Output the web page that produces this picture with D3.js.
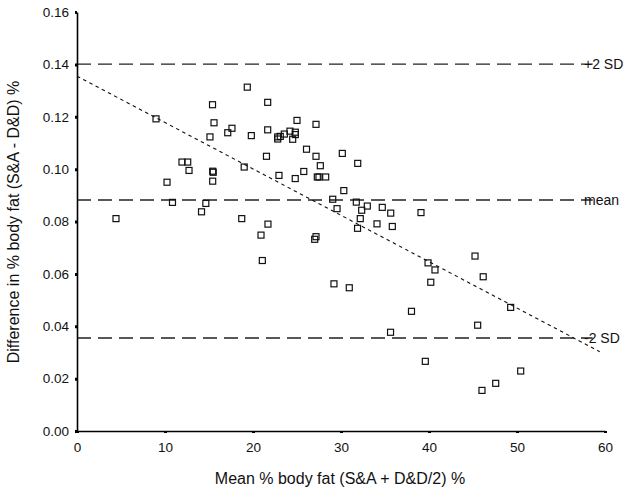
<!DOCTYPE html>
<html>
<head>
<meta charset="utf-8">
<script src="https://cdn.jsdelivr.net/npm/d3@7"></script>
<style>
  body { margin: 0; background: #fff; }
  text { font-family: "Liberation Sans", Arial, Helvetica, sans-serif; }
</style>
</head>
<body>
<svg id="chart" width="628" height="490"></svg>
<script>
// Data (mean % body fat, difference)
const meanFat = [4.43, 8.98, 10.23, 10.85, 11.93, 12.58, 12.73, 14.15, 14.64, 15.40,
  15.57, 15.11, 15.42, 15.48, 15.42, 17.13, 17.61, 18.72, 19.00, 19.35,
  19.81, 20.91, 21.06, 21.53, 21.67, 21.67, 21.70, 22.81, 23.10, 22.81,
  23.56, 24.20, 24.81, 24.81, 24.51, 22.95, 24.80, 25.00, 25.77, 26.08,
  27.01, 27.16, 27.16, 27.16, 27.31, 27.50, 27.65, 28.26, 29.06, 29.20,
  29.55, 30.15, 30.32, 30.94, 31.74, 31.90, 31.88, 32.19, 32.35, 32.99,
  34.09, 34.69, 35.65, 35.63, 35.83, 38.01, 39.09, 39.58, 39.89, 40.20,
  40.68, 45.23, 45.53, 46.02, 46.16, 47.58, 49.28, 50.42];
const diffFat = [0.0811, 0.1192, 0.0950, 0.0873, 0.1027, 0.1027, 0.0995, 0.0837, 0.0869, 0.1246,
  0.1177, 0.1123, 0.0992, 0.0988, 0.0954, 0.1139, 0.1156, 0.0811, 0.1008, 0.1313,
  0.1128, 0.0748, 0.0651, 0.1049, 0.1255, 0.1150, 0.0790, 0.1123, 0.1125, 0.1115,
  0.1134, 0.1145, 0.1141, 0.1132, 0.1114, 0.0976, 0.0964, 0.1186, 0.0991, 0.1076,
  0.0732, 0.0742, 0.1171, 0.1049, 0.0970, 0.0970, 0.1013, 0.0970, 0.0885, 0.0562,
  0.0849, 0.1060, 0.0918, 0.0547, 0.0874, 0.1022, 0.0774, 0.0811, 0.0843, 0.0859,
  0.0791, 0.0854, 0.0832, 0.0377, 0.0781, 0.0457, 0.0834, 0.0266, 0.0642, 0.0568,
  0.0615, 0.0668, 0.0404, 0.0155, 0.0589, 0.0182, 0.0472, 0.0229];

// Reference lines
const refNames = ["+2 SD", "mean", "-2 SD"];
const refValues = [0.1401, 0.0882, 0.0355];

// Trend line endpoints
const trendX = [0, 59.4];
const trendY = [0.1355, 0.0303];

const xTicks = [0, 10, 20, 30, 40, 50, 60];
const yTicks = [0.00, 0.02, 0.04, 0.06, 0.08, 0.10, 0.12, 0.14, 0.16];

const svg = d3.select("#chart");
const x = d3.scaleLinear().domain([0, 60]).range([77, 605]);
const y = d3.scaleLinear().domain([0, 0.16]).range([431, 12]);

// Reference dashed lines
const refG = svg.append("g");
refValues.forEach((v, i) => {
  refG.append("line")
    .attr("x1", x(0)).attr("x2", x(58.6))
    .attr("y1", y(v)).attr("y2", y(v))
    .attr("stroke", "#222").attr("stroke-width", 1.4)
    .attr("stroke-dasharray", "14,7");
  refG.append("text")
    .attr("x", 584).attr("y", y(v) + 5)
    .attr("font-size", 14).attr("fill", "#111")
    .text(refNames[i]);
});

// Trend line
svg.append("line")
  .attr("x1", x(trendX[0])).attr("y1", y(trendY[0]))
  .attr("x2", x(trendX[1])).attr("y2", y(trendY[1]))
  .attr("stroke", "#111").attr("stroke-width", 1.1)
  .attr("stroke-dasharray", "3.5,3.5");

// Points
const pts = meanFat.map((m, i) => [m, diffFat[i]]);
svg.append("g").selectAll("rect").data(pts).enter().append("rect")
  .attr("x", d => x(d[0]) - 3).attr("y", d => y(d[1]) - 3)
  .attr("width", 6).attr("height", 6)
  .attr("fill", "none").attr("stroke", "#111").attr("stroke-width", 1.2);

// Axes
const xAxis = d3.axisBottom(x).tickValues(xTicks).tickFormat(d3.format("d"))
  .tickSize(2).tickSizeOuter(0).tickPadding(9);
const yAxis = d3.axisLeft(y).tickValues(yTicks).tickFormat(d3.format(".2f"))
  .tickSize(2).tickSizeOuter(0).tickPadding(6);

const gx = svg.append("g").attr("transform", "translate(0,431)").call(xAxis);
const gy = svg.append("g").attr("transform", "translate(77,0)").call(yAxis);
[gx, gy].forEach(g => {
  g.select(".domain").attr("stroke", "#000").attr("stroke-width", 1.6);
  g.selectAll(".tick line").attr("stroke", "#000").attr("stroke-width", 3);
  g.selectAll(".tick text").attr("font-size", 13.5).attr("fill", "#111")
    .attr("font-family", "'Liberation Sans', Arial, sans-serif");
});

// Axis titles
svg.append("text")
  .attr("x", 340).attr("y", 484)
  .attr("text-anchor", "middle").attr("font-size", 16).attr("fill", "#111")
  .text("Mean % body fat (S&A + D&D/2) %");
svg.append("text")
  .attr("transform", "translate(19,222) rotate(-90)")
  .attr("text-anchor", "middle").attr("font-size", 16).attr("fill", "#111")
  .text("Difference in % body fat (S&A - D&D) %");
</script>
</body>
</html>
